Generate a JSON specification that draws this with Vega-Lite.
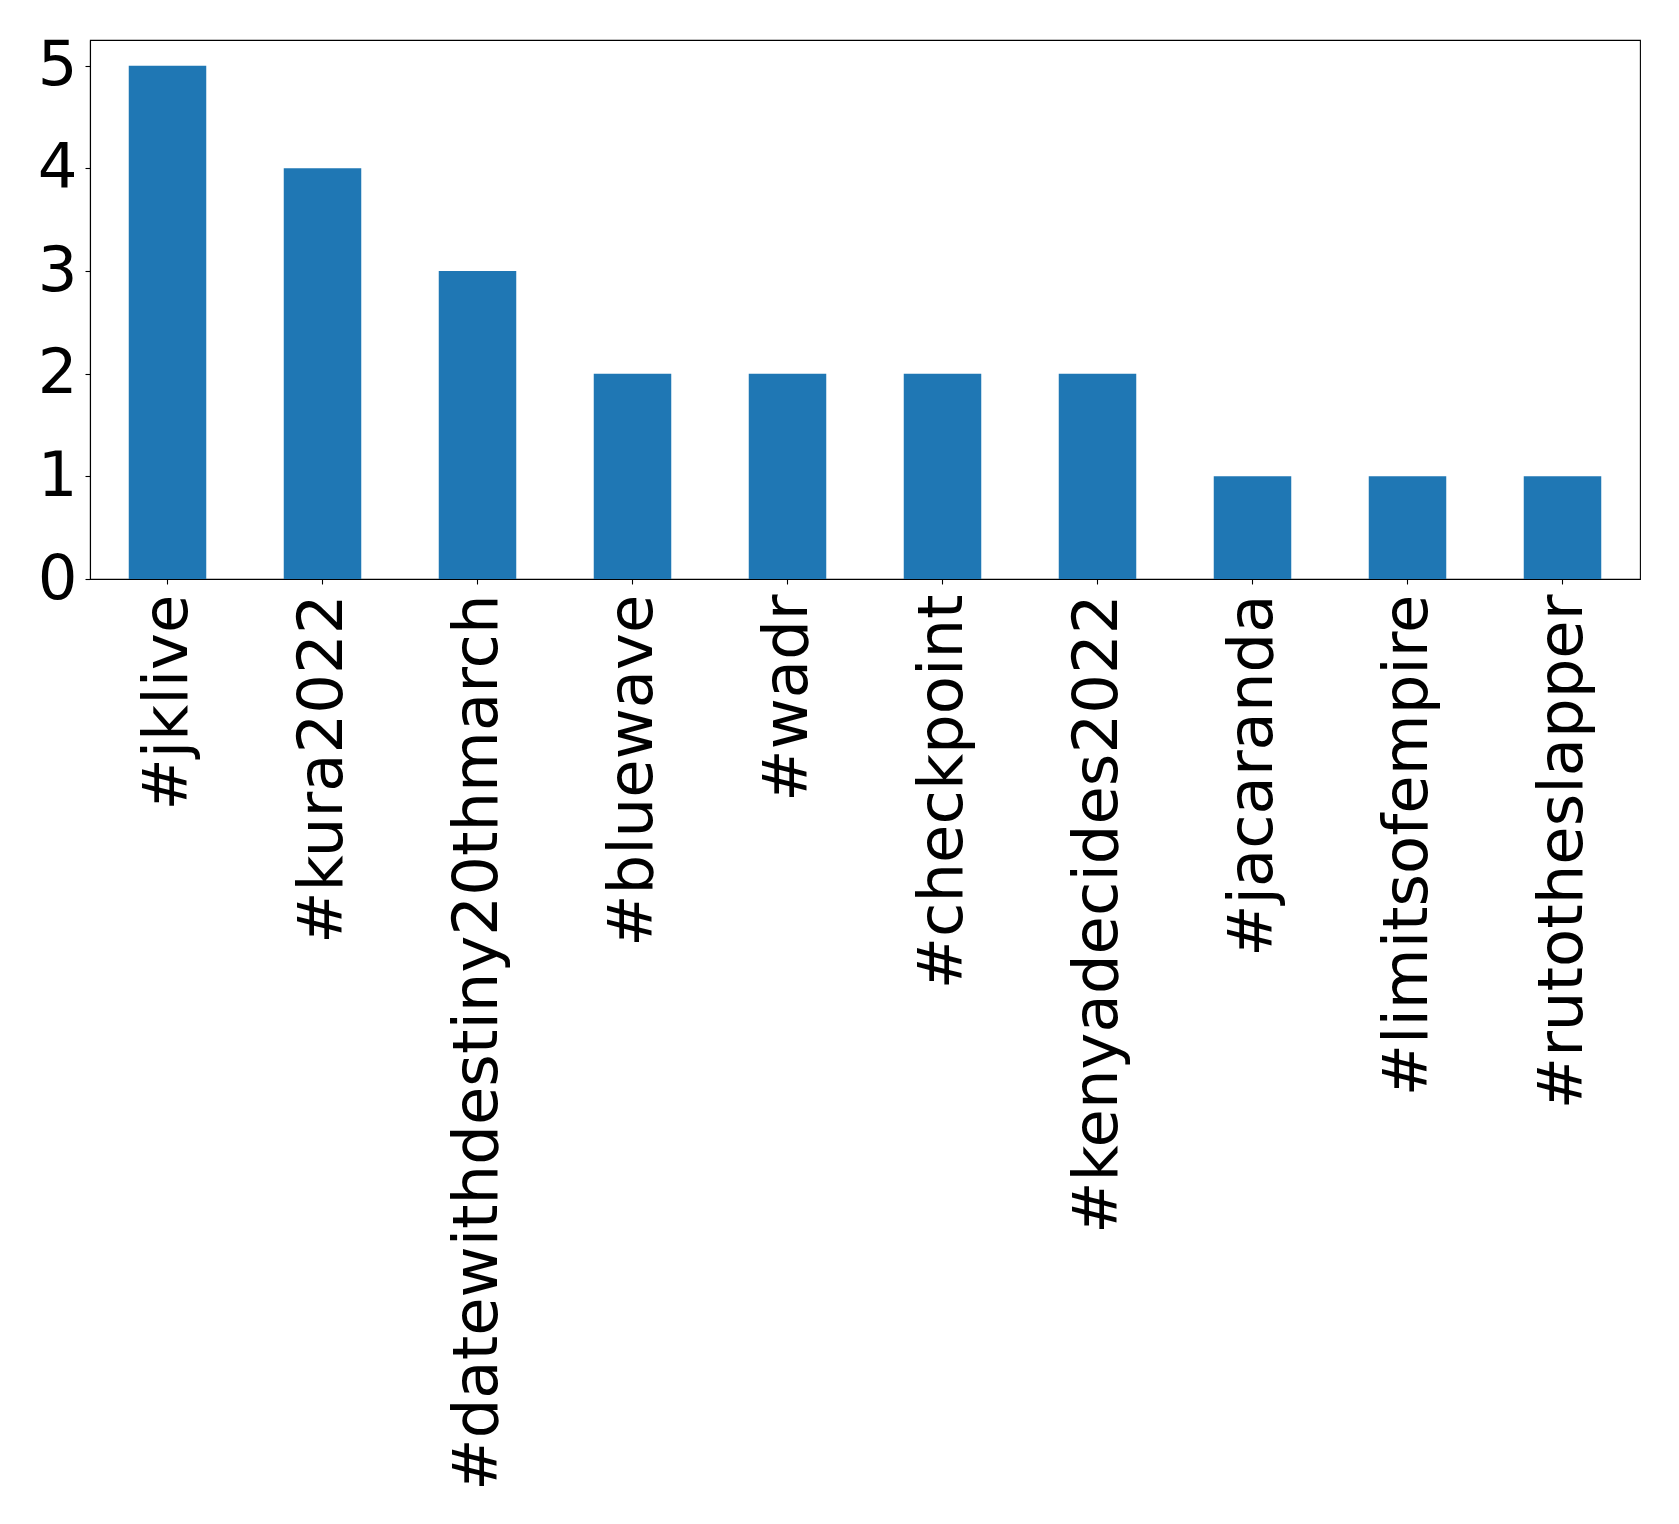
{
  "$schema": "https://vega.github.io/schema/vega-lite/v6.json",
  "autosize": {"type": "none"},
  "padding": {"left": 90, "top": 40, "right": 39, "bottom": 945},
  "width": 1550,
  "height": 539,
  "background": "white",
  "config": {
    "font": "DejaVu Sans",
    "view": {"stroke": "black", "strokeWidth": 1.1},
    "axis": {"domainColor": "black", "tickColor": "black", "labelColor": "black", "domainWidth": 1.1, "tickWidth": 1.1, "tickSize": 5, "grid": false, "labelFont": "DejaVu Sans", "labelFontSize": 62.5}
  },
  "data": {
    "values": [
      {"tag": "#jklive", "count": 5},
      {"tag": "#kura2022", "count": 4},
      {"tag": "#datewithdestiny20thmarch", "count": 3},
      {"tag": "#bluewave", "count": 2},
      {"tag": "#wadr", "count": 2},
      {"tag": "#checkpoint", "count": 2},
      {"tag": "#kenyadecides2022", "count": 2},
      {"tag": "#jacaranda", "count": 1},
      {"tag": "#limitsofempire", "count": 1},
      {"tag": "#rutotheslapper", "count": 1}
    ]
  },
  "mark": {"type": "bar", "color": "#1f77b4"},
  "encoding": {
    "x": {
      "field": "tag", "type": "nominal", "sort": null,
      "scale": {"paddingInner": 0.5, "paddingOuter": 0.25},
      "axis": {"title": null, "labelAngle": -90, "labelAlign": "right", "labelBaseline": "middle", "labelPadding": 10, "labelLimit": 2000}
    },
    "y": {
      "field": "count", "type": "quantitative",
      "scale": {"domain": [0, 5.25], "nice": false},
      "axis": {"title": null, "values": [0, 1, 2, 3, 4, 5], "labelPadding": 8}
    }
  }
}
